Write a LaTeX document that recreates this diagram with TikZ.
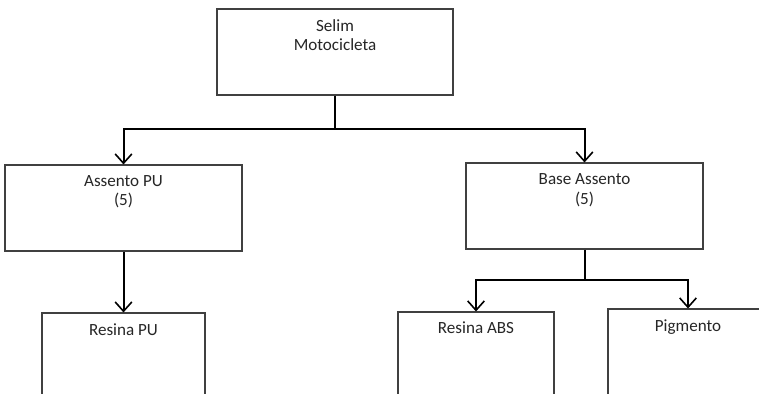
\documentclass[tikz,border=0pt]{standalone}
\usepackage{fontspec}
\setmainfont{Carlito}
\usetikzlibrary{arrows.meta}

\tikzset{
  box/.style={draw=black!75, line width=0.8pt, fill=white, inner sep=0pt},
  lbl/.style={font=\fontsize{12.8pt}{14.6pt}\selectfont, text=black!85, align=center, inner sep=0pt},
  conn/.style={draw=black, line width=1.5pt},
  arr/.style={conn, -{Straight Barb[length=7pt, width=12.5pt, line width=1.2pt]}}
}

\begin{document}
\begin{tikzpicture}[x=0.75pt, y=-0.75pt]
  \clip (0,0) rectangle (759,393);
  \fill[white] (0,0) rectangle (759,393);

  % boxes (the bottom row runs past the lower edge)
  \node[box, minimum width=236*0.75pt, minimum height=86*0.75pt] (selim) at (335,52) {};
  \node[box, minimum width=237*0.75pt, minimum height=86*0.75pt] (assento) at (123.5,208) {};
  \node[box, minimum width=237*0.75pt, minimum height=86*0.75pt] (base) at (584.5,206) {};
  \node[box, minimum width=163*0.75pt, minimum height=120*0.75pt] (resinapu) at (123.5,373) {};
  \node[box, minimum width=156*0.75pt, minimum height=120*0.75pt] (resinaabs) at (476,372) {};
  \node[box, minimum width=160*0.75pt, minimum height=120*0.75pt] (pigmento) at (688,369) {};

  % labels; the base anchor of a two-line label sits on its last line
  \node[lbl, anchor=base] (tselim) at (335,50.5) {Selim\\Motocicleta};
  \node[lbl, anchor=base] (tassento) at (123.5,205.5) {Assento PU\\(5)};
  \node[lbl, anchor=base] (tbase) at (584.5,204) {Base Assento\\(5)};
  \node[lbl, anchor=base] (tresinapu) at (123.5,335) {Resina PU};
  \node[lbl, anchor=base] (tresinaabs) at (476,333) {Resina ABS};
  \node[lbl, anchor=base] (tpigmento) at (688,331) {Pigmento};

  % connectors
  \draw[conn] (selim.south) -- ++(0,33) coordinate (j1);
  \draw[arr] (j1) -| (assento.north);
  \draw[arr] (j1) -| (base.north);
  \draw[arr] (assento.south) -- (resinapu.north);
  \draw[conn] (base.south) -- ++(0,30) coordinate (j2);
  \draw[arr] (j2) -| (resinaabs.north);
  \draw[arr] (j2) -| (pigmento.north);
\end{tikzpicture}
\end{document}
